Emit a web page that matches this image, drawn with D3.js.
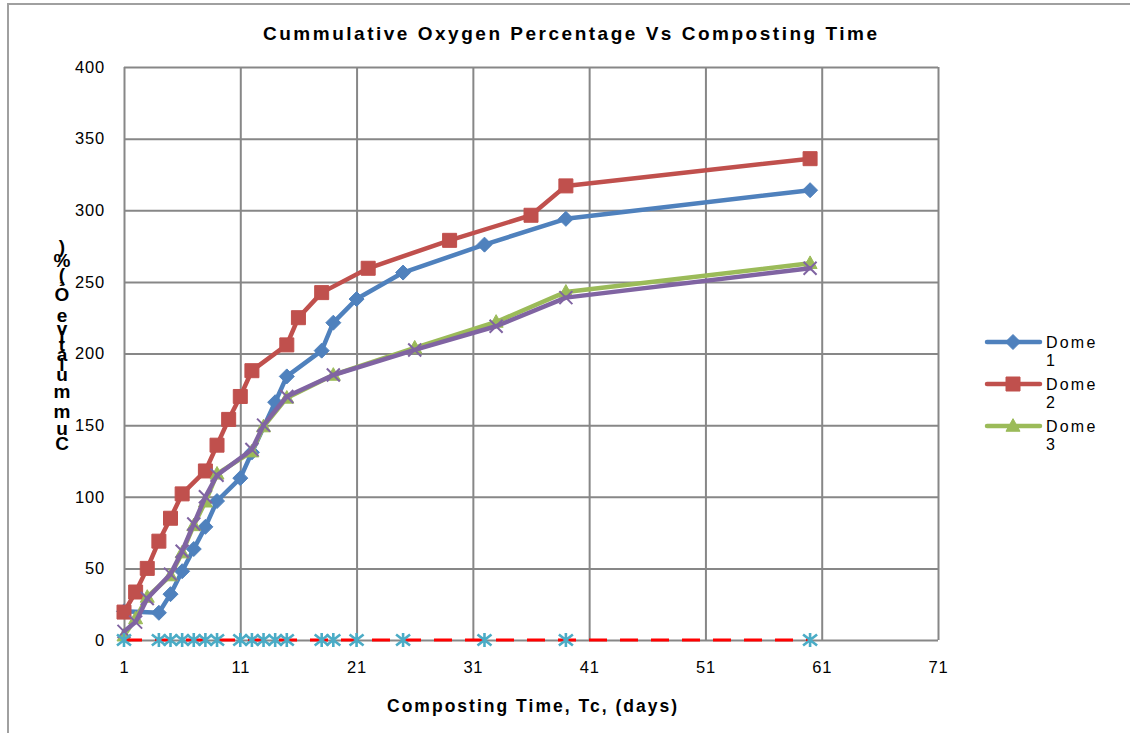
<!DOCTYPE html>
<html>
<head>
<meta charset="utf-8">
<script src="https://cdn.jsdelivr.net/npm/d3@7"></script>
<style>
  body { margin: 0; background: #fff; }
  svg { display: block; font-family: "Liberation Sans", Arial, sans-serif; }
</style>
</head>
<body>
<svg id="chart" width="1130" height="733"></svg>
<script>
// Cumulative oxygen readings per dome (days since start of composting, % O2 cumulative)
const dome1Days   = [1, 4, 5, 6, 7, 8, 9, 11, 12, 14, 15, 18, 19, 21, 25, 32, 39, 60];
const dome1Values = [20, 19, 32, 48, 63.5, 79, 97, 113, 131, 166, 184, 202, 221.5, 238, 256.5, 276, 294, 314];

const dome2Days   = [1, 2, 3, 4, 5, 6, 8, 9, 10, 11, 12, 15, 16, 18, 22, 29, 36, 39, 60];
const dome2Values = [19.5, 33.5, 50, 69, 85, 102, 118, 136, 154, 170, 188, 206, 225, 242.5, 259.5, 279, 296.5, 317, 336];

const dome3Days   = [1, 2, 3, 5, 6, 7, 8, 9, 12, 13, 15, 19, 26, 33, 39, 60];
const dome3Values = [3, 15, 30, 45, 61, 80, 96.5, 116, 131.5, 149, 169, 185, 204, 222, 243, 263];

const dome4Days   = [1, 2, 3, 5, 6, 7, 8, 9, 12, 13, 15, 19, 26, 33, 39, 60];
const dome4Values = [6, 12.5, 29, 46, 62, 81, 100, 115, 133, 150, 170, 185, 202.5, 219, 239, 259.5];

// Zero-level sampling series and reference line
const samplingDays   = [1, 4, 5, 6, 7, 8, 9, 11, 12, 13, 14, 15, 18, 19, 21, 25, 32, 39, 60];
const samplingValues = [0, 0, 0, 0, 0, 0, 0, 0, 0, 0, 0, 0, 0, 0, 0, 0, 0, 0, 0];
const referenceDays   = [1, 60];
const referenceValues = [0, 0];

const xTicks = [1, 11, 21, 31, 41, 51, 61, 71];
const yTicks = [0, 50, 100, 150, 200, 250, 300, 350, 400];
const legendNames = ["Dome 1", "Dome 2", "Dome 3"];

const titleText = "Cummulative Oxygen Percentage Vs Composting Time";
const xTitleText = "Composting Time, Tc, (days)";
const yTitleText = "Cummulative O\u2082(%)";

const svg = d3.select("#chart");
const W = 1130, H = 733;
const plot = { left: 124, right: 938, top: 67, bottom: 640 };
const gridColor = "#878787";

const x = d3.scaleLinear().domain([1, 71]).range([plot.left, plot.right]);
const y = d3.scaleLinear().domain([0, 400]).range([plot.bottom, plot.top]);

// outer frame (top and left edges)
svg.append("path")
  .attr("d", `M8,${H} L8,4 L${W},4`)
  .attr("fill", "none").attr("stroke", "#a0a0a0").attr("stroke-width", 2);

// horizontal gridlines + y tick labels
const yAxis = svg.append("g").attr("transform", `translate(${plot.left},0)`)
  .call(d3.axisLeft(y).tickValues(yTicks).tickSize(-(plot.right - plot.left)).tickPadding(19).tickFormat(d3.format("d")));
yAxis.select(".domain").remove();
yAxis.selectAll(".tick line").attr("stroke", gridColor).attr("stroke-width", 2);
yAxis.selectAll(".tick text").attr("font-size", 16.5).attr("fill", "#000")
  .attr("font-family", "Liberation Sans, Arial, sans-serif").attr("letter-spacing", 0.8);

// vertical gridlines + x tick labels
const xAxis = svg.append("g").attr("transform", `translate(0,${plot.bottom})`)
  .call(d3.axisBottom(x).tickValues(xTicks).tickSize(-(plot.bottom - plot.top)).tickPadding(21).tickFormat(d3.format("d")));
xAxis.select(".domain").remove();
xAxis.selectAll(".tick line").attr("stroke", gridColor).attr("stroke-width", 2);
xAxis.selectAll(".tick text").attr("font-size", 16.5).attr("fill", "#000")
  .attr("font-family", "Liberation Sans, Arial, sans-serif").attr("letter-spacing", 0.8);

// marker shapes
const markerPath = {
  diamond: s => `M0,${-s} L${s},0 L0,${s} L${-s},0 Z`,
  square: s => `M${-s},${-s} H${s} V${s} H${-s} Z`,
  triangle: s => `M0,${-s * 1.05} L${s},${s * 0.75} L${-s},${s * 0.75} Z`,
  cross: s => `M${-s},${-s} L${s},${s} M${-s},${s} L${s},${-s}`,
  star: s => `M${-s},${-s * 0.8} L${s},${s * 0.8} M${-s},${s * 0.8} L${s},${-s * 0.8} M0,${-s} L0,${s}`
};

const series = [
  { days: dome1Days, values: dome1Values, color: "#4F81BD", marker: "diamond", size: 7.5, filled: true },
  { days: dome2Days, values: dome2Values, color: "#C0504D", marker: "square", size: 7, filled: true },
  { days: dome3Days, values: dome3Values, color: "#9BBB59", marker: "triangle", size: 7, filled: true },
  { days: dome4Days, values: dome4Values, color: "#8064A2", marker: "cross", size: 6.5, filled: false }
];

const line = d3.line().x(d => x(d[0])).y(d => y(d[1]));
const marks = svg.append("g");

series.forEach(s => {
  const pts = s.days.map((d, i) => [d, s.values[i]]);
  marks.append("path").datum(pts).attr("d", line)
    .attr("fill", "none").attr("stroke", s.color).attr("stroke-width", 4.5)
    .attr("stroke-linejoin", "round").attr("stroke-linecap", "round");
  marks.selectAll(null).data(pts).enter().append("path")
    .attr("transform", d => `translate(${x(d[0])},${y(d[1])})`)
    .attr("d", markerPath[s.marker](s.size))
    .attr("fill", s.filled ? s.color : "none")
    .attr("stroke", s.color).attr("stroke-width", s.filled ? 1 : 2);
});

// dashed reference at zero
const refPts = referenceDays.map((d, i) => [d, referenceValues[i]]);
marks.append("path").datum(refPts).attr("d", line)
  .attr("fill", "none").attr("stroke", "#FF0000").attr("stroke-width", 3)
  .attr("stroke-dasharray", "18,13");

// sampling markers at zero
const sampPts = samplingDays.map((d, i) => [d, samplingValues[i]]);
marks.selectAll(null).data(sampPts).enter().append("path")
  .attr("transform", d => `translate(${x(d[0])},${y(d[1])})`)
  .attr("d", markerPath.star(7))
  .attr("fill", "none").attr("stroke", "#4BACC6").attr("stroke-width", 2.6);

// title
svg.append("text").attr("x", 570).attr("y", 40).attr("text-anchor", "middle")
  .attr("font-size", 19).attr("font-weight", "bold")
  .attr("textLength", 614).attr("lengthAdjust", "spacing")
  .text(titleText);

// x axis title
svg.append("text").attr("x", 532).attr("y", 712).attr("text-anchor", "middle")
  .attr("font-size", 17.5).attr("font-weight", "bold")
  .attr("textLength", 290).attr("lengthAdjust", "spacing")
  .text(xTitleText);

// y axis title: upright glyphs stacked bottom-to-top
const yChars = Array.from(yTitleText);
const yG = svg.append("g");
const glyphs = yChars.map(ch => {
  const sub = ch === "\u2082";
  const t = yG.append("text").attr("x", 62)
    .attr("font-size", sub ? 13 : 19).attr("font-weight", "bold")
    .attr("text-anchor", "middle").attr("dominant-baseline", "central")
    .text(ch);
  const w = ch === " " ? 5 : t.node().getComputedTextLength();
  return { t, w };
});
const total = d3.sum(glyphs, g => g.w);
const yBottom = 452, yTop = 243;
const k = (yBottom - yTop) / total;
let cursor = yBottom;
glyphs.forEach(g => {
  g.t.attr("y", cursor - g.w * k / 2);
  cursor -= g.w * k;
});

// legend
const legend = svg.append("g");
legendNames.forEach((name, i) => {
  const s = series[i];
  const ly = 342 + i * 42;
  legend.append("line").attr("x1", 987).attr("x2", 1040).attr("y1", ly).attr("y2", ly)
    .attr("stroke", s.color).attr("stroke-width", 4.5).attr("stroke-linecap", "round");
  legend.append("path").attr("transform", `translate(1013,${ly})`)
    .attr("d", markerPath[s.marker](s.size)).attr("fill", s.color).attr("stroke", s.color);
  const parts = name.split(" ");
  legend.append("text").attr("x", 1046).attr("y", ly + 6).attr("font-size", 16)
    .attr("letter-spacing", 2.2).text(parts[0]);
  legend.append("text").attr("x", 1046).attr("y", ly + 24).attr("font-size", 16)
    .text(parts[1]);
});
</script>
</body>
</html>
